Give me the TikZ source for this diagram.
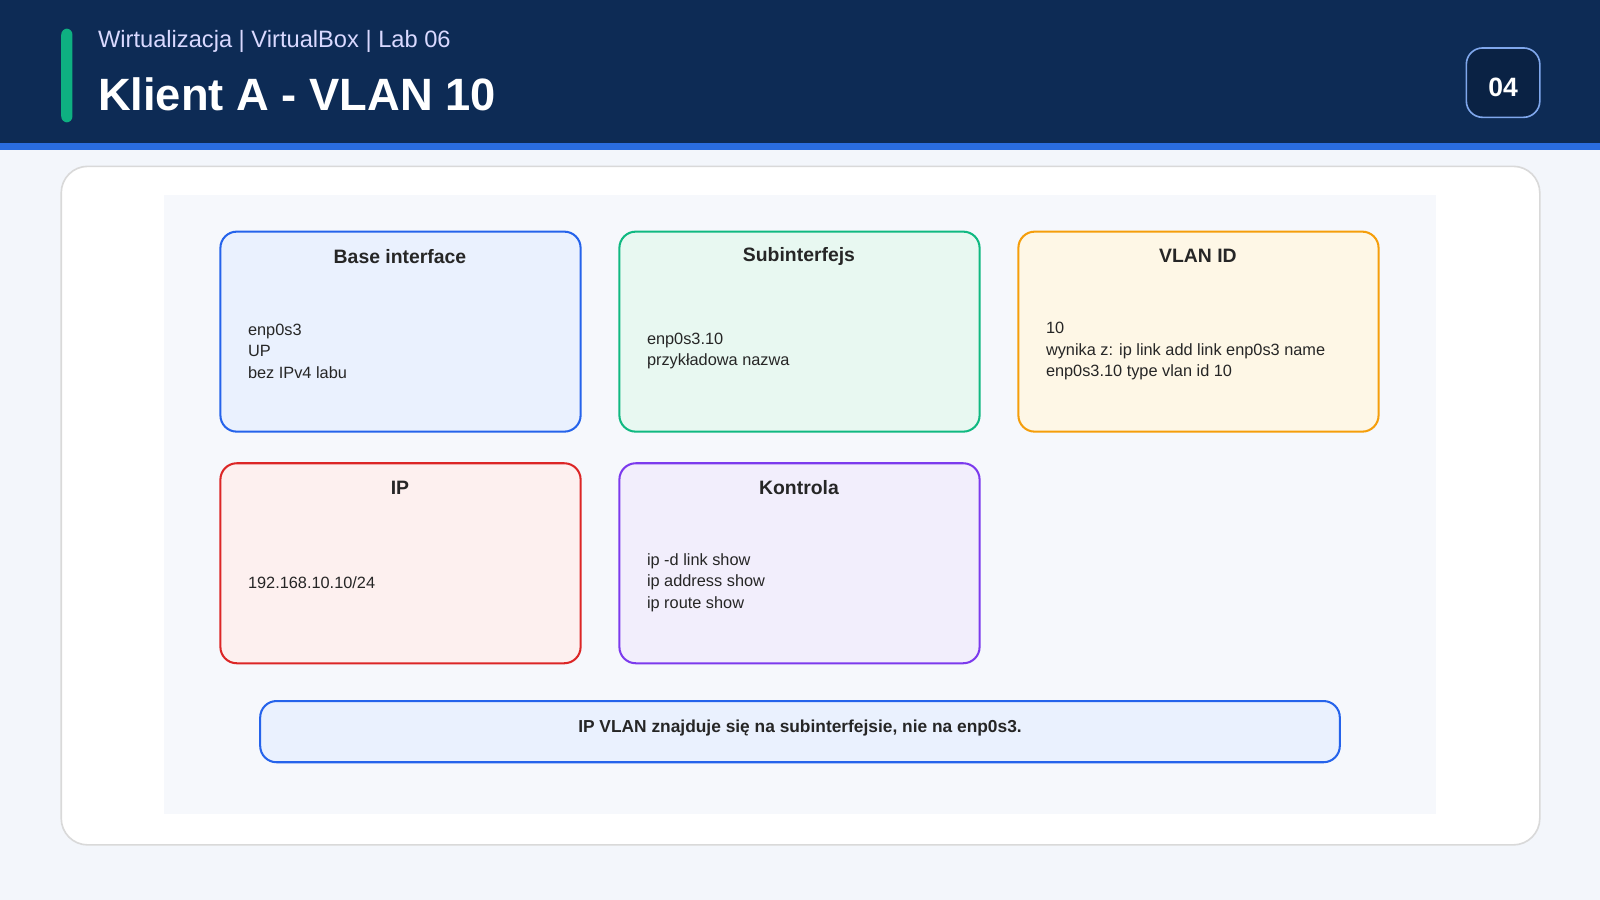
\documentclass[tikz,border=0pt]{standalone}
\usepackage{fontspec}
\setmainfont{Liberation Sans}
\usetikzlibrary{positioning}
\definecolor{navy}{HTML}{0D2B55}
\definecolor{stripe}{HTML}{2A6DE0}
\definecolor{pagebg}{HTML}{F3F6FB}
\definecolor{panel}{HTML}{F6F8FC}
\definecolor{bluel}{HTML}{2563EB}\definecolor{bluef}{HTML}{EAF1FE}
\definecolor{greenl}{HTML}{10B981}\definecolor{greenf}{HTML}{E8F8F1}
\definecolor{orangel}{HTML}{F59E0B}\definecolor{orangef}{HTML}{FEF7E6}
\definecolor{redl}{HTML}{DC2626}\definecolor{redf}{HTML}{FDF0EF}
\definecolor{purplel}{HTML}{7C3AED}\definecolor{purplef}{HTML}{F2EEFC}
\tikzset{
  box/.style 2 args = {
    draw=#1, fill=#2, line width=1pt, rounded corners=8pt
  },
  ttl/.style = {
    font=\fontsize{9.5}{11}\selectfont\bfseries, text=black!85
  },
  body/.style = {
    font=\fontsize{8}{10.5}\selectfont, text=black!85, align=left, anchor=west
  }
}
\begin{document}
\begin{tikzpicture}[x=0.5pt,y=-0.5pt]
		\useasboundingbox (0,0) rectangle (1568,882);
		\fill[pagebg] (0,0) rectangle (1568,882);
		\fill[navy] (0,0) rectangle (1568,140);
		\fill[stripe] (0,140) rectangle (1568,147);
		\fill[greenl!85!teal, rounded corners=3pt] (60,28) rectangle (71,120);
		\node[anchor=west, text=white!85!blue, font=\fontsize{11.6}{14}\selectfont] (sub) at (89,41) {Wirtualizacja | VirtualBox | Lab 06};
		\node[anchor=west, text=white, font=\fontsize{22.2}{26}\selectfont\bfseries] (title) at (89,92) {Klient A - VLAN 10};
		\draw[draw=stripe!60!white, fill=navy!80!black, line width=0.8pt, rounded corners=8pt] (1437,47) rectangle (1509,115);
		\node[text=white, font=\fontsize{13}{15}\selectfont\bfseries] (badge) at (1473,86) {04};
%
		\draw[draw=black!15, fill=white, line width=0.8pt, rounded corners=13pt] (60,163) rectangle (1509,828);
		\fill[panel] (161,191) rectangle (1407,798);
%
		\draw[box={bluel}{bluef}] (216,227) rectangle (569,423);
		\node[ttl] (t1) at (392,251) {Base interface};
		\node[body] (b1) at (236,344) {enp0s3\\UP\\bez IPv4 labu};
		\draw[box={greenl}{greenf}] (607,227) rectangle (960,423);
		\node[ttl] (t2) at (783,251) {Subinterfejs};
		\node[body] (b2) at (627,344) {enp0s3.10\\przykładowa nazwa};
		\draw[box={orangel}{orangef}] (998,227) rectangle (1351,423);
		\node[ttl] (t3) at (1174,251) {VLAN ID};
		\node[body] (b3) at (1018,344) {10\\wynika z: ip link add link enp0s3 name\\enp0s3.10 type vlan id 10};
		\draw[box={redl}{redf}] (216,454) rectangle (569,650);
		\node[ttl] (t4) at (392,478) {IP};
		\node[body] (b4) at (236,571) {192.168.10.10/24};
		\draw[box={purplel}{purplef}] (607,454) rectangle (960,650);
		\node[ttl] (t5) at (783,478) {Kontrola};
		\node[body] (b5) at (627,571) {ip -d link show\\ip address show\\ip route show};
%
		\draw[box={bluel}{bluef}] (255,687) rectangle (1313,747);
		\node[font=\fontsize{8.5}{10}\selectfont\bfseries, text=black!85] (note) at (784,713) {IP VLAN znajduje się na subinterfejsie, nie na enp0s3.};
\end{tikzpicture}
\end{document}
